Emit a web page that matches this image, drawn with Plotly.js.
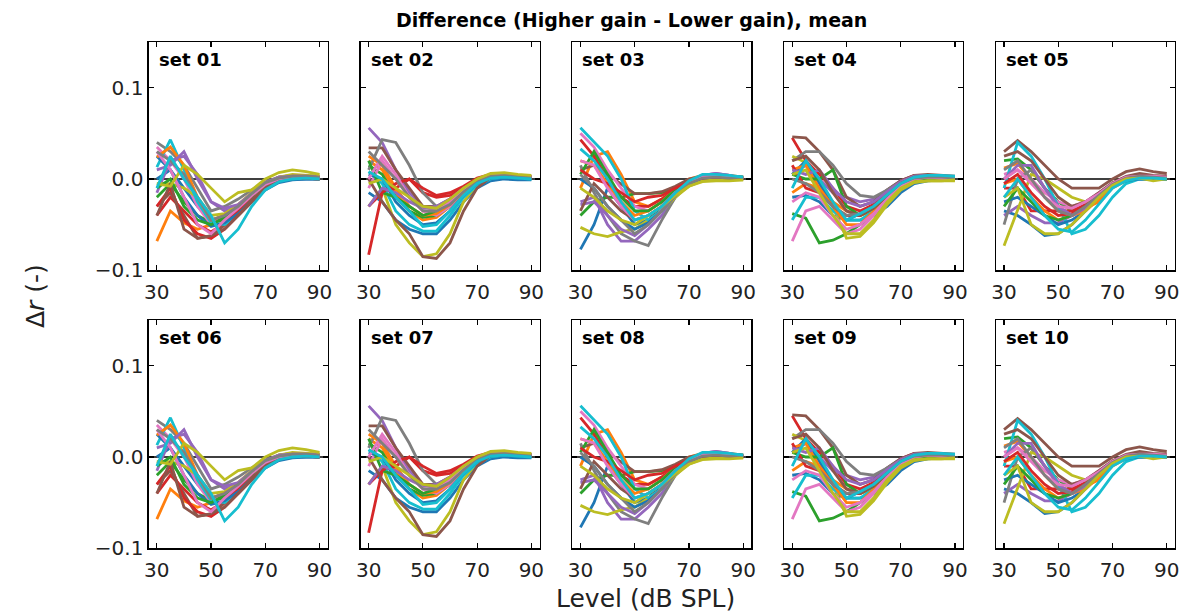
<!DOCTYPE html>
<html>
<head>
<meta charset="utf-8">
<script src="https://cdn.plot.ly/plotly-3.0.1.min.js"></script>
<style>html,body{margin:0;padding:0;background:#fff;}#chart{width:1187px;height:615px;}</style>
</head>
<body>
<div id="chart"></div>
<script>
// Levels (dB SPL)
const levels = [30, 35, 40, 45, 50, 55, 60, 65, 70, 75, 80, 85, 90];
const xTicks = [30, 50, 70, 90];
const yTicks = [-0.1, 0.0, 0.1];
const yTickText = ['\u22120.1', '0.0', '0.1'];
const panelNames = ['set 01','set 02','set 03','set 04','set 05','set 06','set 07','set 08','set 09','set 10'];
const tab10 = ['#1f77b4','#ff7f0e','#2ca02c','#d62728','#9467bd','#8c564b','#e377c2','#7f7f7f','#bcbd22','#17becf'];

const set01 = [
 [0.000, 0.010, -0.010, -0.030, -0.045, -0.040, -0.030, -0.020, -0.008, -0.002, 0.000, 0.000, 0.000],
 [-0.068, -0.035, -0.048, -0.055, -0.050, -0.042, -0.030, -0.018, -0.006, 0.000, 0.002, 0.002, 0.001],
 [-0.020, -0.005, -0.025, -0.040, -0.048, -0.045, -0.032, -0.020, -0.008, 0.000, 0.002, 0.002, 0.001],
 [-0.040, -0.020, -0.035, -0.050, -0.058, -0.048, -0.035, -0.022, -0.008, 0.000, 0.002, 0.002, 0.001],
 [-0.015, 0.020, 0.025, 0.005, -0.025, -0.035, -0.030, -0.018, -0.005, 0.002, 0.004, 0.004, 0.003],
 [-0.030, -0.015, -0.040, -0.065, -0.063, -0.050, -0.038, -0.022, -0.008, 0.000, 0.002, 0.002, 0.001],
 [0.035, 0.020, 0.000, -0.030, -0.050, -0.040, -0.028, -0.015, -0.005, 0.000, 0.002, 0.002, 0.001],
 [0.040, 0.030, 0.015, -0.010, -0.035, -0.030, -0.022, -0.012, -0.003, 0.002, 0.004, 0.003, 0.002],
 [-0.005, -0.005, -0.010, -0.020, -0.040, -0.038, -0.028, -0.015, -0.005, 0.002, 0.005, 0.004, 0.003],
 [0.013, 0.043, 0.010, -0.025, -0.048, -0.050, -0.040, -0.025, -0.010, -0.002, 0.001, 0.001, 0.000],
 [0.025, 0.010, -0.020, -0.040, -0.052, -0.048, -0.038, -0.025, -0.012, -0.004, -0.001, 0.000, 0.000],
 [0.024, 0.035, 0.015, -0.020, -0.045, -0.040, -0.030, -0.018, -0.006, 0.000, 0.003, 0.003, 0.002],
 [-0.010, 0.000, -0.030, -0.045, -0.050, -0.042, -0.030, -0.018, -0.006, 0.000, 0.002, 0.002, 0.001],
 [-0.030, -0.010, -0.045, -0.060, -0.065, -0.055, -0.040, -0.025, -0.010, -0.002, 0.001, 0.001, 0.000],
 [0.010, 0.015, 0.030, 0.000, -0.025, -0.032, -0.028, -0.016, -0.004, 0.002, 0.003, 0.003, 0.002],
 [-0.040, -0.005, -0.055, -0.065, -0.062, -0.055, -0.040, -0.025, -0.010, -0.002, 0.001, 0.001, 0.000],
 [0.030, 0.010, -0.020, -0.050, -0.060, -0.045, -0.032, -0.018, -0.006, 0.000, 0.002, 0.002, 0.001],
 [0.030, 0.020, 0.005, -0.020, -0.045, -0.040, -0.030, -0.016, -0.004, 0.001, 0.003, 0.003, 0.002],
 [-0.005, -0.008, 0.015, 0.005, -0.010, -0.025, -0.015, -0.012, 0.000, 0.007, 0.010, 0.008, 0.005],
 [-0.010, 0.025, 0.000, -0.020, -0.040, -0.070, -0.055, -0.030, -0.012, -0.003, 0.000, 0.001, 0.000]
];
const set02 = [
 [-0.015, -0.025, -0.045, -0.055, -0.060, -0.060, -0.045, -0.025, -0.010, -0.002, 0.000, -0.001, -0.001],
 [0.020, 0.010, -0.015, -0.035, -0.045, -0.042, -0.030, -0.015, -0.005, 0.002, 0.003, 0.002, 0.002],
 [0.015, 0.005, -0.020, -0.035, -0.042, -0.040, -0.030, -0.015, -0.004, 0.002, 0.004, 0.003, 0.002],
 [-0.083, -0.015, -0.010, 0.000, -0.015, -0.020, -0.018, -0.010, 0.000, 0.004, 0.005, 0.003, 0.002],
 [0.056, 0.040, 0.010, -0.015, -0.030, -0.035, -0.025, -0.012, -0.002, 0.003, 0.004, 0.003, 0.002],
 [0.034, 0.034, 0.010, -0.010, -0.030, -0.030, -0.022, -0.010, -0.002, 0.004, 0.005, 0.003, 0.002],
 [-0.010, 0.020, 0.000, -0.020, -0.035, -0.040, -0.030, -0.015, -0.004, 0.002, 0.003, 0.002, 0.001],
 [0.010, 0.043, 0.040, 0.015, -0.015, -0.030, -0.025, -0.012, -0.002, 0.004, 0.005, 0.003, 0.002],
 [-0.030, -0.010, -0.050, -0.070, -0.085, -0.082, -0.060, -0.025, -0.006, 0.002, 0.004, 0.003, 0.002],
 [0.008, -0.005, -0.035, -0.050, -0.057, -0.057, -0.040, -0.020, -0.007, 0.000, 0.002, 0.001, 0.000],
 [0.005, 0.000, -0.025, -0.040, -0.050, -0.048, -0.035, -0.018, -0.005, 0.001, 0.002, 0.001, 0.000],
 [0.025, 0.015, -0.010, -0.030, -0.040, -0.038, -0.028, -0.014, -0.004, 0.002, 0.004, 0.003, 0.002],
 [0.020, -0.015, -0.020, -0.030, -0.040, -0.035, -0.025, -0.012, -0.003, 0.003, 0.004, 0.003, 0.002],
 [-0.030, -0.015, -0.005, 0.000, -0.010, -0.018, -0.015, -0.008, 0.001, 0.005, 0.005, 0.003, 0.002],
 [-0.030, -0.010, -0.015, -0.025, -0.032, -0.030, -0.022, -0.010, -0.002, 0.004, 0.004, 0.003, 0.002],
 [0.000, -0.025, -0.045, -0.060, -0.085, -0.087, -0.070, -0.035, -0.010, 0.002, 0.004, 0.003, 0.002],
 [0.000, 0.025, 0.005, -0.020, -0.035, -0.035, -0.025, -0.012, -0.003, 0.003, 0.004, 0.003, 0.002],
 [0.030, 0.015, 0.000, -0.020, -0.035, -0.035, -0.028, -0.014, -0.003, 0.003, 0.004, 0.003, 0.002],
 [-0.005, 0.000, -0.010, -0.020, -0.030, -0.032, -0.022, -0.010, 0.000, 0.006, 0.007, 0.005, 0.004],
 [0.008, 0.000, -0.020, -0.035, -0.052, -0.050, -0.035, -0.018, -0.005, 0.001, 0.002, 0.001, 0.000]
];
const set03 = [
 [-0.077, -0.050, -0.010, -0.030, -0.050, -0.045, -0.030, -0.015, -0.004, 0.002, 0.003, 0.002, 0.001],
 [-0.010, 0.025, 0.030, 0.005, -0.025, -0.030, -0.022, -0.010, 0.000, 0.004, 0.005, 0.004, 0.002],
 [-0.040, -0.025, -0.020, -0.020, -0.016, -0.016, -0.015, -0.010, -0.002, 0.003, 0.004, 0.003, 0.002],
 [0.043, 0.025, 0.000, -0.020, -0.030, -0.030, -0.022, -0.012, -0.004, 0.001, 0.002, 0.001, 0.000],
 [-0.025, -0.020, -0.050, -0.068, -0.068, -0.055, -0.040, -0.020, -0.005, 0.004, 0.006, 0.004, 0.000],
 [0.010, 0.015, 0.005, -0.005, -0.016, -0.016, -0.014, -0.008, 0.000, 0.003, 0.004, 0.003, 0.002],
 [0.050, 0.035, 0.010, -0.010, -0.030, -0.035, -0.025, -0.012, -0.003, 0.003, 0.004, 0.003, 0.001],
 [0.015, -0.015, -0.040, -0.060, -0.068, -0.073, -0.045, -0.020, -0.006, 0.000, 0.002, 0.001, 0.000],
 [-0.053, -0.060, -0.063, -0.058, -0.055, -0.045, -0.035, -0.020, -0.008, -0.002, 0.000, -0.001, -0.001],
 [0.056, 0.040, 0.025, 0.000, -0.035, -0.045, -0.035, -0.018, -0.005, 0.003, 0.004, 0.003, 0.002],
 [0.000, -0.010, -0.030, -0.045, -0.055, -0.048, -0.035, -0.018, -0.005, 0.001, 0.002, 0.001, 0.000],
 [0.020, 0.015, -0.005, -0.025, -0.040, -0.035, -0.025, -0.012, -0.003, 0.002, 0.003, 0.002, 0.001],
 [0.005, 0.030, 0.005, -0.020, -0.035, -0.035, -0.025, -0.012, -0.003, 0.002, 0.003, 0.002, 0.001],
 [0.010, 0.000, -0.005, -0.015, -0.025, -0.020, -0.018, -0.010, -0.003, 0.001, 0.002, 0.001, 0.000],
 [-0.028, -0.025, -0.040, -0.055, -0.062, -0.050, -0.035, -0.018, -0.005, 0.004, 0.006, 0.004, 0.001],
 [-0.035, -0.005, -0.020, -0.035, -0.045, -0.040, -0.030, -0.015, -0.004, 0.002, 0.003, 0.002, 0.001],
 [0.020, 0.015, -0.010, -0.030, -0.045, -0.040, -0.030, -0.015, -0.004, 0.002, 0.003, 0.002, 0.001],
 [0.005, -0.010, -0.030, -0.045, -0.060, -0.050, -0.035, -0.018, -0.005, 0.001, 0.002, 0.001, 0.000],
 [-0.010, -0.020, -0.035, -0.045, -0.050, -0.040, -0.030, -0.018, -0.008, -0.003, -0.002, -0.002, -0.001],
 [0.033, 0.020, 0.000, -0.025, -0.045, -0.040, -0.030, -0.015, -0.002, 0.005, 0.005, 0.004, 0.002]
];
const set04 = [
 [-0.020, -0.018, -0.025, -0.040, -0.045, -0.045, -0.040, -0.030, -0.015, -0.005, -0.002, -0.001, 0.000],
 [-0.015, -0.005, -0.010, -0.025, -0.035, -0.040, -0.035, -0.022, -0.010, -0.002, 0.000, 0.000, 0.000],
 [-0.038, -0.043, -0.070, -0.067, -0.060, -0.050, -0.040, -0.025, -0.010, -0.002, 0.000, 0.000, 0.000],
 [0.045, 0.020, 0.005, -0.010, -0.030, -0.035, -0.028, -0.015, -0.002, 0.004, 0.004, 0.003, 0.002],
 [0.005, 0.015, 0.000, -0.015, -0.020, -0.025, -0.022, -0.012, -0.002, 0.003, 0.004, 0.003, 0.002],
 [0.046, 0.045, 0.030, 0.010, -0.020, -0.030, -0.025, -0.012, -0.002, 0.004, 0.005, 0.004, 0.003],
 [-0.068, -0.035, -0.030, -0.045, -0.060, -0.055, -0.040, -0.022, -0.008, 0.000, 0.002, 0.001, 0.000],
 [0.020, 0.030, 0.030, 0.015, -0.005, -0.018, -0.020, -0.012, -0.003, 0.003, 0.004, 0.003, 0.002],
 [0.025, 0.018, 0.000, -0.030, -0.065, -0.063, -0.048, -0.028, -0.012, -0.004, -0.002, -0.002, -0.002],
 [-0.045, -0.020, -0.020, -0.035, -0.045, -0.045, -0.035, -0.020, -0.006, 0.001, 0.003, 0.003, 0.002],
 [0.005, 0.020, -0.005, -0.030, -0.045, -0.038, -0.030, -0.018, -0.005, 0.002, 0.003, 0.002, 0.001],
 [0.010, 0.015, -0.010, -0.030, -0.050, -0.050, -0.035, -0.020, -0.006, 0.001, 0.002, 0.001, 0.001],
 [0.005, 0.000, 0.000, 0.010, -0.030, -0.040, -0.032, -0.018, -0.005, 0.002, 0.003, 0.002, 0.001],
 [0.015, -0.010, -0.015, -0.030, -0.040, -0.040, -0.030, -0.015, -0.004, 0.002, 0.003, 0.002, 0.001],
 [0.010, 0.005, 0.010, -0.010, -0.025, -0.030, -0.025, -0.014, -0.003, 0.003, 0.004, 0.003, 0.002],
 [0.020, 0.025, 0.010, -0.015, -0.035, -0.040, -0.032, -0.018, -0.005, 0.002, 0.003, 0.002, 0.001],
 [-0.025, -0.015, -0.020, -0.040, -0.055, -0.050, -0.038, -0.022, -0.008, 0.000, 0.002, 0.001, 0.000],
 [0.000, -0.005, -0.015, -0.030, -0.040, -0.038, -0.030, -0.018, -0.005, 0.001, 0.002, 0.002, 0.001],
 [0.005, 0.010, -0.015, -0.040, -0.060, -0.060, -0.045, -0.025, -0.010, -0.003, -0.002, -0.002, -0.001],
 [-0.010, 0.020, 0.000, -0.025, -0.045, -0.038, -0.030, -0.018, -0.005, 0.002, 0.004, 0.004, 0.003]
];
const set05 = [
 [-0.035, -0.040, -0.050, -0.062, -0.060, -0.050, -0.035, -0.020, -0.008, -0.002, 0.000, 0.000, 0.000],
 [0.012, 0.017, 0.000, -0.020, -0.035, -0.040, -0.032, -0.025, -0.010, -0.002, 0.001, 0.001, 0.000],
 [0.020, 0.022, 0.010, -0.010, -0.025, -0.035, -0.030, -0.020, -0.008, -0.001, 0.002, 0.002, 0.001],
 [-0.010, -0.010, -0.035, -0.035, -0.035, -0.035, -0.028, -0.018, -0.006, 0.000, 0.002, 0.002, 0.001],
 [-0.040, -0.030, -0.040, -0.048, -0.048, -0.040, -0.030, -0.018, -0.006, 0.000, 0.002, 0.002, 0.001],
 [0.030, 0.042, 0.030, 0.015, 0.000, -0.010, -0.010, -0.010, 0.000, 0.008, 0.011, 0.008, 0.006],
 [0.005, 0.010, 0.000, -0.015, -0.025, -0.030, -0.025, -0.015, -0.005, 0.002, 0.004, 0.003, 0.002],
 [-0.050, 0.000, 0.010, -0.010, -0.030, -0.040, -0.032, -0.020, -0.007, 0.000, 0.002, 0.002, 0.001],
 [-0.073, -0.033, 0.005, 0.000, -0.010, -0.020, -0.025, -0.018, -0.007, 0.000, 0.002, -0.001, 0.000],
 [-0.010, 0.040, 0.025, 0.000, -0.030, -0.060, -0.055, -0.040, -0.020, -0.005, 0.000, 0.000, 0.000],
 [-0.025, -0.020, -0.030, -0.040, -0.050, -0.045, -0.035, -0.020, -0.008, -0.002, 0.000, 0.000, 0.000],
 [-0.005, 0.000, -0.020, -0.035, -0.045, -0.040, -0.035, -0.022, -0.008, -0.001, 0.001, 0.001, 0.000],
 [-0.030, -0.010, -0.025, -0.040, -0.045, -0.040, -0.030, -0.018, -0.006, 0.000, 0.002, 0.001, 0.001],
 [-0.005, 0.005, -0.015, -0.030, -0.040, -0.038, -0.030, -0.018, -0.006, 0.000, 0.002, 0.001, 0.001],
 [0.000, 0.015, 0.015, -0.010, -0.030, -0.040, -0.032, -0.020, -0.007, 0.000, 0.002, 0.002, 0.001],
 [0.025, 0.030, 0.020, 0.000, -0.020, -0.030, -0.025, -0.015, -0.004, 0.003, 0.006, 0.004, 0.003],
 [0.000, 0.010, -0.005, -0.020, -0.030, -0.032, -0.025, -0.016, -0.005, 0.002, 0.003, 0.003, 0.002],
 [0.010, 0.020, 0.000, -0.020, -0.035, -0.040, -0.030, -0.018, -0.006, 0.001, 0.003, 0.002, 0.001],
 [-0.020, -0.010, -0.050, -0.060, -0.060, -0.050, -0.035, -0.020, -0.007, 0.000, 0.001, -0.002, 0.000],
 [-0.020, 0.000, -0.020, -0.040, -0.055, -0.058, -0.045, -0.028, -0.010, -0.002, 0.001, 0.001, 0.000]
];
// second row repeats the same sets
const set06 = set01, set07 = set02, set08 = set03, set09 = set04, set10 = set05;
const allSets = [set01, set02, set03, set04, set05, set06, set07, set08, set09, set10];

const W = 1187, H = 615;
const colLeft = [148.7, 360.5, 572.3, 784.1, 995.9];
const panelW = 179;
const rowTop = [42, 320];
const panelH = 228.3;

const FONT = 'DejaVu Sans, Liberation Sans, sans-serif';
const traces = [];
const layout = {
  width: W, height: H,
  margin: {l: 0, r: 0, t: 0, b: 0},
  paper_bgcolor: '#fff', plot_bgcolor: '#fff',
  showlegend: false,
  font: {family: FONT, color: '#000'},
  annotations: [],
  shapes: []
};

allSets.forEach((set, p) => {
  const row = Math.floor(p / 5), col = p % 5;
  const n = p + 1;
  const xa = n === 1 ? 'x' : 'x' + n;
  const ya = n === 1 ? 'y' : 'y' + n;
  set.forEach((vals, i) => {
    traces.push({
      x: levels, y: vals, xaxis: xa, yaxis: ya,
      type: 'scatter', mode: 'lines',
      line: {color: tab10[i % 10], width: 2.8},
      hoverinfo: 'skip'
    });
  });
  const x0 = colLeft[col] / W, x1 = (colLeft[col] + panelW) / W;
  const y1 = 1 - rowTop[row] / H, y0 = 1 - (rowTop[row] + panelH) / H;
  const axCommon = {
    showline: true, linecolor: '#000', linewidth: 1.3, mirror: 'ticks',
    ticks: 'inside', ticklen: 5, tickwidth: 1.2, tickcolor: '#000',
    showgrid: false, zeroline: false,
    tickfont: {family: FONT, size: 20, color: '#222'}
  };
  layout[n === 1 ? 'xaxis' : 'xaxis' + n] = Object.assign({}, axCommon, {
    domain: [x0, x1], range: [27, 93], anchor: ya,
    tickmode: 'array', tickvals: xTicks, ticktext: xTicks.map(String),
    ticklabelstandoff: 3
  });
  layout[n === 1 ? 'yaxis' : 'yaxis' + n] = Object.assign({}, axCommon, {
    domain: [y0, y1], range: [-0.1, 0.15], anchor: xa,
    tickmode: 'array', tickvals: yTicks, ticktext: yTickText,
    showticklabels: col === 0
  });
  layout.shapes.push({
    type: 'line', xref: xa + ' domain', yref: ya, x0: 0, x1: 1, y0: 0, y1: 0,
    line: {color: '#000', width: 1.3}, layer: 'below'
  });
  layout.annotations.push({
    text: '<b>' + panelNames[p] + '</b>', xref: xa + ' domain', yref: ya + ' domain',
    x: 0.045, y: 0.925, xanchor: 'left', yanchor: 'middle', showarrow: false,
    font: {family: FONT, size: 18, color: '#000'}
  });
});

layout.annotations.push({
  text: '<b>Difference (Higher gain - Lower gain), mean</b>',
  xref: 'paper', yref: 'paper', x: 631 / W, y: 1 - 20 / H,
  xanchor: 'center', yanchor: 'middle', showarrow: false,
  font: {family: FONT, size: 19, color: '#000'}
});
layout.annotations.push({
  text: 'Level (dB SPL)',
  xref: 'paper', yref: 'paper', x: 645 / W, y: 0,
  xanchor: 'center', yanchor: 'bottom', showarrow: false,
  font: {family: FONT, size: 25, color: '#222'}
});
layout.annotations.push({
  text: '\u0394<i>r</i> (-)',
  xref: 'paper', yref: 'paper', x: 35 / W, y: 1 - 296 / H,
  xanchor: 'center', yanchor: 'middle', showarrow: false, textangle: -90,
  font: {family: FONT, size: 25, color: '#222'}
});

Plotly.newPlot('chart', traces, layout, {staticPlot: true, displayModeBar: false});
</script>
</body>
</html>
